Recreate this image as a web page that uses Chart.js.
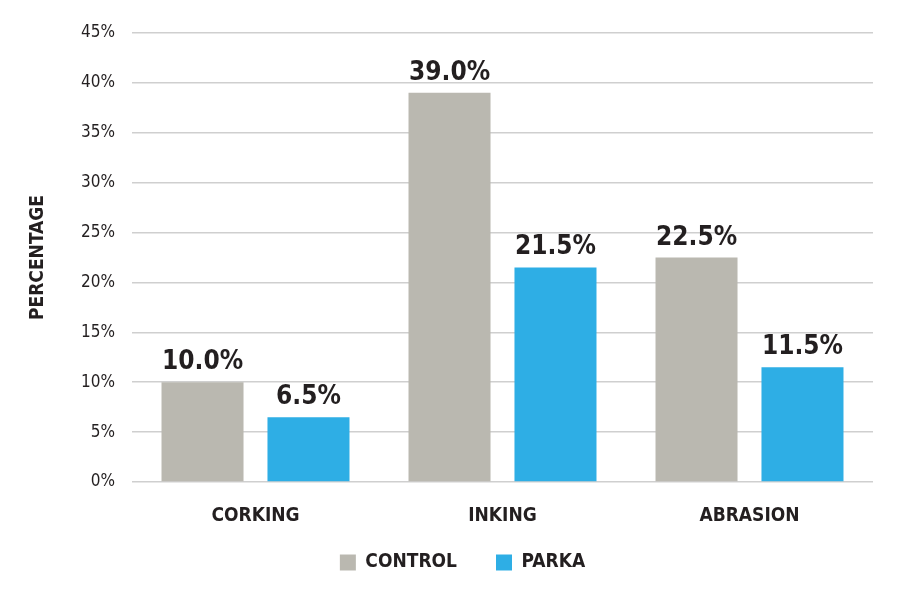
<!DOCTYPE html>
<html>
<head>
<meta charset="utf-8">
<script src="https://cdn.jsdelivr.net/npm/chart.js@4"></script>
<style>
  html, body { margin: 0; padding: 0; background: #fff; }
  #wrap { width: 900px; height: 600px; }
</style>
</head>
<body>
<div id="wrap"><canvas id="chart"></canvas></div>
<script>
// --- data ---
const categories = ['CORKING', 'INKING', 'ABRASION'];
const controlValues = [10.0, 39.0, 22.5];
const parkaValues = [6.5, 21.5, 11.5];
const seriesNames = ['CONTROL', 'PARKA'];
const yTicksMax = 45;

const FONT = '"Liberation Sans Narrow", "DejaVu Sans Condensed", sans-serif';
const INK = '#231f20';

// draws "10.0%" labels over each bar
const valueLabels = {
    id: 'valueLabels',
    afterDatasetsDraw(chart) {
        const ctx = chart.ctx;
        ctx.save();
        ctx.font = `bold 26px ${FONT}`;
        ctx.fillStyle = INK;
        ctx.textAlign = 'center';
        ctx.textBaseline = 'alphabetic';
        chart.data.datasets.forEach((ds, i) => {
            chart.getDatasetMeta(i).data.forEach((bar, j) => {
                ctx.fillText(ds.data[j].toFixed(1) + '%', bar.x, bar.y - 13);
            });
        });
        ctx.restore();
    }
};

// legend sits closer to the axis (and a bit right) than chart.js would put it
const legendFit = {
    id: 'legendFit',
    beforeInit(chart) {
        const fit = chart.legend.fit;
        chart.legend.fit = function () {
            fit.call(this);
            this.height = 68;
        };
    },
    afterLayout(chart) {
        chart.legend.top = 514;
        chart.legend.left += 21;
        chart.legend.right += 21;
    }
};

new Chart(document.getElementById('chart').getContext('2d'), {
    type: 'bar',
    data: {
        labels: categories,
        datasets: [
            { label: seriesNames[0], data: controlValues, backgroundColor: '#bab8b0' },
            { label: seriesNames[1], data: parkaValues, backgroundColor: '#2eaee5' }
        ]
    },
    options: {
        responsive: true, maintainAspectRatio: false,
        animation: false,
        datasets: { bar: { categoryPercentage: 0.858, barPercentage: 0.774 } },
        layout: { padding: { top: 33, right: 27, bottom: 0, left: 10 } },
        scales: {
            x: {
                grid: { display: false },
                border: { display: false },
                afterFit: scale => { scale.height = 50; },
                ticks: { color: INK, padding: 15, font: { family: FONT, size: 19, weight: 'bold' } }
            },
            y: {
                min: 0, max: yTicksMax,
                grid: { color: '#cfcfcf', lineWidth: 1.5, drawTicks: false },
                border: { display: false },
                afterFit: scale => { scale.width = 122; },
                ticks: {
                    stepSize: 5, padding: 17, color: INK,
                    font: { family: FONT, size: 17 },
                    callback: v => v + '%'
                },
                title: {
                    display: true, text: 'PERCENTAGE', color: INK, padding: { top: 17, bottom: 0 },
                    font: { family: FONT, size: 19, weight: 'bold' }
                }
            }
        },
        plugins: {
            legend: {
                position: 'bottom',
                labels: {
                    color: INK, boxWidth: 16, boxHeight: 16, padding: 39,
                    font: { family: FONT, size: 19, weight: 'bold' }
                }
            },
            tooltip: { enabled: false }
        }
    },
    plugins: [valueLabels, legendFit]
});
</script>
</body>
</html>
